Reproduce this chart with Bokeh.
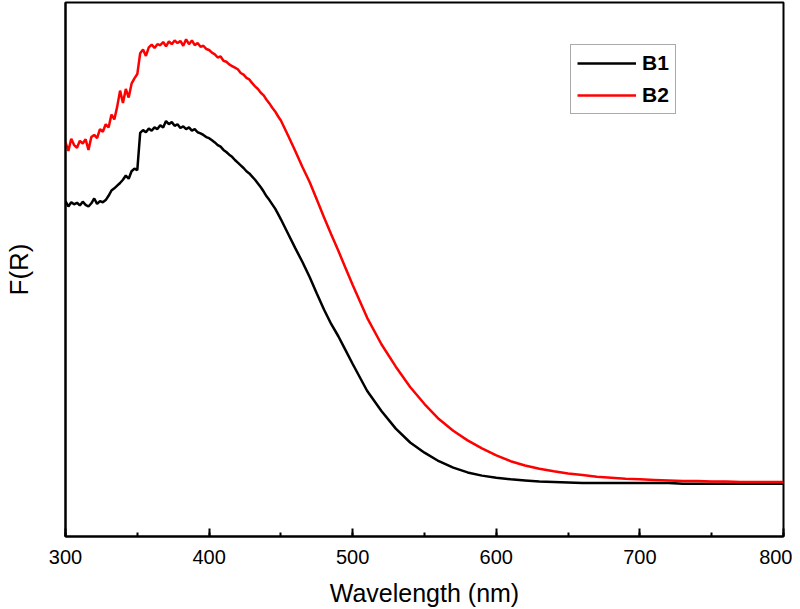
import numpy as np
from bokeh.plotting import figure
from bokeh.models import SingleIntervalTicker, Range1d, Legend, LegendItem, FixedTicker
from bokeh.embed import file_html
from bokeh.resources import INLINE

# Wavelength grid (nm)
wl_fine = list(range(300, 452, 2))          # noisy region, 2 nm step
wl_mid = list(range(455, 505, 5))           # 455..500
wl_tail = list(range(510, 810, 10))         # 510..800
wavelength = wl_fine + wl_mid + wl_tail

# F(R), arbitrary units
b2_fine = [0.738, 0.722, 0.745, 0.733, 0.728, 0.741, 0.736, 0.744, 0.724, 0.748,
           0.752, 0.746, 0.763, 0.758, 0.772, 0.766, 0.790, 0.781, 0.805, 0.835,
           0.812, 0.838, 0.822, 0.848, 0.858, 0.866, 0.905, 0.912, 0.900, 0.916,
           0.921, 0.915, 0.922, 0.920, 0.926, 0.918, 0.927, 0.922, 0.929, 0.924,
           0.928, 0.919, 0.931, 0.922, 0.929, 0.920, 0.924, 0.917, 0.919, 0.913,
           0.911, 0.906, 0.903, 0.897, 0.899, 0.891, 0.889, 0.884, 0.881, 0.878,
           0.875, 0.868, 0.865, 0.859, 0.856, 0.849, 0.843, 0.838, 0.831, 0.826,
           0.818, 0.811, 0.803, 0.796, 0.787, 0.779]
b2_mid = [0.751, 0.722, 0.692, 0.664, 0.631, 0.598, 0.566, 0.535, 0.503, 0.471]
b2_tail = [0.410, 0.360, 0.318, 0.280, 0.248, 0.220, 0.198, 0.180, 0.165, 0.152,
           0.141, 0.133, 0.127, 0.122, 0.118, 0.115, 0.112, 0.110, 0.108, 0.107,
           0.106, 0.105, 0.104, 0.104, 0.103, 0.103, 0.102, 0.102, 0.102, 0.102]

b1_fine = [0.628, 0.618, 0.626, 0.622, 0.625, 0.620, 0.627, 0.621, 0.618, 0.624,
           0.633, 0.623, 0.628, 0.626, 0.630, 0.638, 0.648, 0.652, 0.657, 0.662,
           0.668, 0.676, 0.670, 0.684, 0.689, 0.686, 0.756, 0.761, 0.757, 0.764,
           0.760, 0.766, 0.763, 0.770, 0.766, 0.778, 0.772, 0.776, 0.769, 0.772,
           0.765, 0.768, 0.763, 0.766, 0.760, 0.763, 0.757, 0.755, 0.752, 0.748,
           0.746, 0.742, 0.738, 0.733, 0.730, 0.724, 0.720, 0.715, 0.711, 0.705,
           0.700, 0.695, 0.690, 0.684, 0.680, 0.674, 0.668, 0.661, 0.654, 0.646,
           0.637, 0.630, 0.622, 0.614, 0.604, 0.594]
b1_mid = [0.567, 0.540, 0.514, 0.486, 0.455, 0.425, 0.398, 0.375, 0.349, 0.323]
b1_tail = [0.273, 0.235, 0.202, 0.176, 0.157, 0.141, 0.129, 0.120, 0.114, 0.110,
           0.107, 0.105, 0.103, 0.102, 0.101, 0.100, 0.100, 0.100, 0.100, 0.100,
           0.100, 0.100, 0.099, 0.099, 0.099, 0.099, 0.099, 0.099, 0.099, 0.099]

b1 = b1_fine + b1_mid + b1_tail
b2 = b2_fine + b2_mid + b2_tail

FONT = "Liberation Sans"

p = figure(frame_width=718, frame_height=534,
           min_border_left=57, min_border_right=9, min_border_top=2, min_border_bottom=65,
           x_range=Range1d(300, 800), y_range=Range1d(0, 1.0),
           output_backend="svg", toolbar_location=None,
           background_fill_color="white", border_fill_color="white")

p.xgrid.visible = False
p.ygrid.visible = False
p.outline_line_color = "black"
p.outline_line_width = 2
p.outline_line_alpha = 1.0

r1 = p.line(wavelength, b1, line_color="black", line_width=2.5)
r2 = p.line(wavelength, b2, line_color="#ff0000", line_width=2.5)

xa = p.xaxis[0]
xa.ticker = SingleIntervalTicker(interval=100, num_minor_ticks=2)
xa.axis_label = "Wavelength (nm)"
xa.axis_label_text_font = FONT
xa.axis_label_text_font_size = "25px"
xa.axis_label_text_font_style = "normal"
xa.axis_label_text_color = "black"
xa.axis_label_standoff = 12
xa.major_label_text_font = FONT
xa.major_label_text_font_size = "20px"
xa.major_label_text_color = "black"
xa.major_label_standoff = 13
xa.major_tick_in = 8
xa.major_tick_out = 0
xa.minor_tick_in = 4
xa.minor_tick_out = 0
xa.axis_line_width = 2
xa.major_tick_line_width = 2
xa.minor_tick_line_width = 2
xa.axis_line_color = "black"
xa.major_tick_line_color = "black"
xa.minor_tick_line_color = "black"

ya = p.yaxis[0]
ya.ticker = FixedTicker(ticks=[])
ya.axis_label = "F(R)"
ya.axis_label_text_font = FONT
ya.axis_label_text_font_size = "26px"
ya.axis_label_text_font_style = "normal"
ya.axis_label_text_color = "black"
ya.axis_label_standoff = 32
ya.major_tick_in = 0
ya.major_tick_out = 0
ya.minor_tick_in = 0
ya.minor_tick_out = 0
ya.axis_line_width = 2
ya.axis_line_color = "black"

legend = Legend(items=[LegendItem(label="B1", renderers=[r1]),
                       LegendItem(label="B2", renderers=[r2])],
                location=(505, 422))
legend.margin = 0
legend.padding = 6
legend.spacing = 8
legend.glyph_width = 59
legend.glyph_height = 24
legend.label_height = 24
legend.label_standoff = 6
legend.label_text_font = FONT
legend.label_text_font_size = "21px"
legend.label_text_font_style = "bold"
legend.label_text_color = "black"
legend.border_line_color = "#555555"
legend.border_line_width = 1.5
legend.background_fill_color = "white"
legend.background_fill_alpha = 1.0
p.add_layout(legend, "center")

open("out.html", "w").write(file_html(p, INLINE))
